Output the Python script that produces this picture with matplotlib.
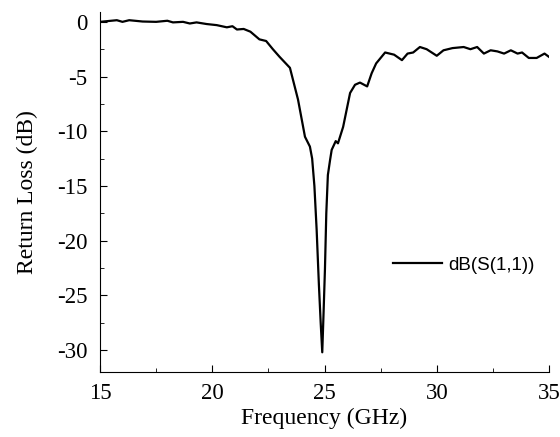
import matplotlib
matplotlib.use("Agg")
import matplotlib.pyplot as plt
from matplotlib.ticker import MultipleLocator

freq = [15.0, 15.3, 15.75, 16.0, 16.3, 16.9, 17.5, 18.0, 18.25, 18.7, 19.0, 19.3, 19.75,
        20.2, 20.65, 20.9, 21.1, 21.4, 21.7, 22.1, 22.4, 22.7, 23.0, 23.46, 23.82, 24.13,
        24.35, 24.45, 24.55, 24.65, 24.75, 24.83, 24.9, 24.96, 25.02, 25.08, 25.15, 25.25,
        25.32, 25.5, 25.6, 25.83, 26.14, 26.36, 26.58, 26.9, 27.1, 27.3, 27.7, 28.1, 28.45,
        28.7, 28.95, 29.25, 29.55, 30.0, 30.3, 30.7, 31.2, 31.5, 31.8, 32.1, 32.4, 32.7,
        33.0, 33.3, 33.6, 33.8, 34.1, 34.45, 34.8, 35.0]
s11_db = [0.0, 0.06, 0.15, 0.0, 0.15, 0.03, 0.0, 0.1, -0.05, 0.0, -0.15, -0.05, -0.2,
          -0.3, -0.5, -0.4, -0.7, -0.65, -0.9, -1.6, -1.75, -2.5, -3.2, -4.2, -7.1, -10.5,
          -11.4, -12.5, -15.0, -19.0, -24.0, -27.5, -30.2, -26.5, -22.6, -17.5, -14.0, -12.6,
          -11.7, -10.9, -11.1, -9.6, -6.5, -5.75, -5.55, -5.9, -4.7, -3.8, -2.8, -3.0, -3.5,
          -2.9, -2.8, -2.3, -2.5, -3.1, -2.6, -2.4, -2.3, -2.5, -2.3, -2.9, -2.6, -2.7,
          -2.9, -2.6, -2.9, -2.8, -3.3, -3.3, -2.9, -3.2]

xticks = [15, 20, 25, 30, 35]
yticks = [0, -5, -10, -15, -20, -25, -30]
series_label = "dB(S(1,1))"

fig = plt.figure(figsize=(5.6, 4.37), dpi=100)
ax = fig.add_axes([100/560, 1 - 372/437, 449/560, (372 - 12)/437])
ax.plot(freq, s11_db, color="black", linewidth=1.6, label=series_label)

ax.set_xlim(15, 35)
ax.set_ylim(-32, 0.9)
ax.set_xticks(xticks)
ax.set_yticks(yticks)
ax.set_yticklabels([str(t) for t in yticks])
ax.xaxis.set_minor_locator(MultipleLocator(2.5))
ax.yaxis.set_minor_locator(MultipleLocator(2.5))
ax.tick_params(which="both", direction="in", labelsize=16.5)
ax.tick_params(which="major", length=5)
ax.tick_params(which="minor", length=3)
ax.tick_params(axis="y", pad=9)
ax.tick_params(axis="x", pad=8)
for lbl in ax.get_xticklabels() + ax.get_yticklabels():
    lbl.set_fontfamily("Liberation Serif")
ax.spines["top"].set_visible(False)
ax.spines["right"].set_visible(False)

ax.set_xlabel("Frequency (GHz)", fontsize=17, family="Liberation Serif", labelpad=3)
ax.set_ylabel("Return Loss (dB)", fontsize=17, family="Liberation Serif", labelpad=14)

leg = ax.legend(loc="center", bbox_to_anchor=(0.81, 0.297), frameon=False,
                prop={"family": "Liberation Sans", "size": 13.5},
                handlelength=2.6, handletextpad=0.35)

fig.savefig("out.png", dpi=100)
